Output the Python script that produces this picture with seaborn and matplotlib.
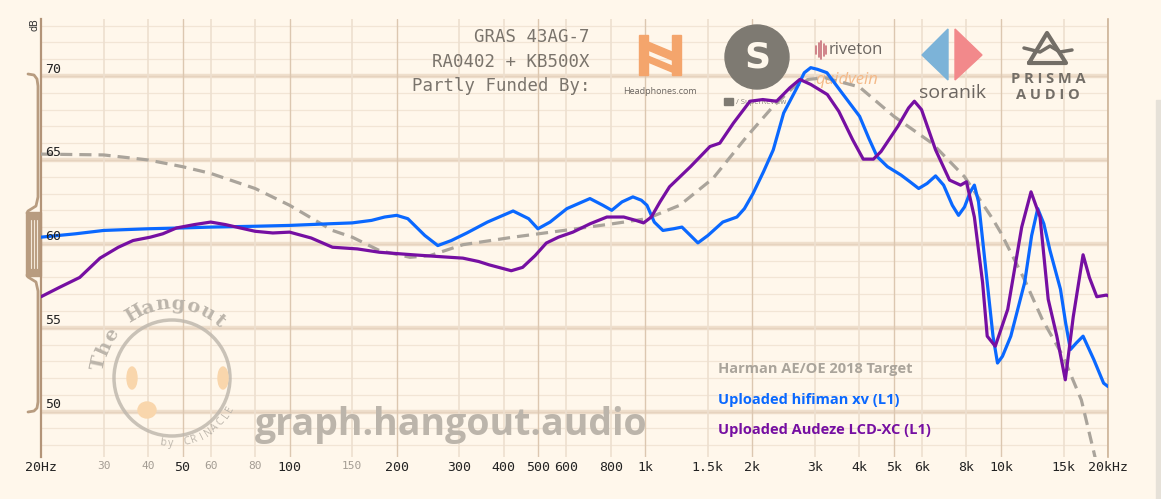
import numpy as np
import pandas as pd
import matplotlib
matplotlib.use("Agg")
import matplotlib.pyplot as plt
import matplotlib.transforms as mtransforms
from matplotlib.patches import Polygon, Circle, Rectangle, Ellipse
import seaborn as sns

# Frequency responses (Hz, dB)
hifiman_freq = [20, 25, 30, 40, 50, 60, 80, 100, 130, 150, 170, 185, 200, 215, 240, 261, 285, 315,
                360, 425, 470, 499, 540, 602, 699, 760, 805, 860, 923, 975, 1011, 1060, 1121, 1200,
                1268, 1340, 1406, 1500, 1652, 1810, 1900, 2009, 2150, 2290, 2450, 2669, 2800, 2919,
                3050, 3241, 3572, 4005, 4250, 4486, 4797, 5238, 5550, 5871, 6200, 6550, 6900, 7300,
                7600, 7900, 8200, 8420, 8650, 9150, 9500, 9780, 10100, 10660, 11660, 12200, 12690,
                13200, 13740, 14700, 15200, 15680, 16300, 17020, 18250, 19440, 20000]
hifiman_db = [60.4, 60.6, 60.8, 60.9, 60.95, 61.0, 61.05, 61.1, 61.2, 61.25, 61.4, 61.6, 61.7, 61.5,
              60.5, 59.9, 60.2, 60.65, 61.3, 61.96, 61.5, 60.9, 61.3, 62.1, 62.7, 62.3, 62.0, 62.5,
              62.8, 62.6, 62.3, 61.3, 60.8, 60.9, 61.0, 60.5, 60.06, 60.5, 61.3, 61.6, 62.1, 63.0,
              64.3, 65.6, 67.8, 69.3, 70.2, 70.5, 70.4, 70.2, 69.0, 67.6, 66.3, 65.2, 64.6, 64.1,
              63.7, 63.3, 63.6, 64.05, 63.5, 62.3, 61.7, 62.2, 63.1, 63.5, 62.5, 57.7, 54.5, 52.9,
              53.3, 54.5, 57.7, 60.5, 62.1, 61.2, 59.6, 57.3, 55.3, 53.7, 54.1, 54.5, 53.1, 51.7,
              51.5]

audeze_freq = [20, 22.5, 25.7, 29.3, 33, 36.3, 40.6, 44, 48.1, 54, 60, 66, 72.6, 80, 89.7, 100, 115,
               132, 155, 179, 222, 260, 307, 340, 364, 420, 452, 490, 527, 570, 626, 700, 780, 870,
               940, 989, 1040, 1100, 1170, 1340, 1520, 1620, 1770, 1970, 2140, 2340, 2550, 2720,
               2920, 3250, 3500, 3830, 4100, 4380, 4600, 5130, 5500, 5710, 5980, 6550, 7170, 7700,
               8000, 8420, 8880, 9150, 9640, 10450, 11440, 12150, 12880, 13580, 14360, 15170,
               15970, 17020, 17730, 18600, 19800, 20000]
audeze_db = [56.85, 57.4, 58.0, 59.15, 59.8, 60.2, 60.4, 60.6, 60.95, 61.15, 61.3, 61.15, 60.95,
             60.75, 60.65, 60.7, 60.35, 59.8, 59.7, 59.5, 59.35, 59.25, 59.15, 58.95, 58.75, 58.4,
             58.6, 59.3, 60.05, 60.4, 60.7, 61.2, 61.6, 61.6, 61.4, 61.25, 61.6, 62.5, 63.4, 64.6,
             65.8, 66.0, 67.2, 68.5, 68.6, 68.5, 69.3, 69.8, 69.5, 68.9, 67.9, 66.2, 65.05, 65.05,
             65.5, 67.0, 68.1, 68.5, 68.0, 65.6, 63.8, 63.5, 63.7, 61.6, 57.7, 54.5, 53.9, 56.1,
             61.0, 63.1, 61.6, 56.7, 54.5, 51.9, 55.65, 59.35, 58.0, 56.85, 56.95, 56.9]

target_freq = [20, 30, 40, 50, 60, 80, 100, 132, 150, 179, 218, 248, 307, 425, 590, 810, 1010, 1250,
               1550, 1930, 2290, 2600, 2870, 3200, 4000, 5000, 6400, 7900, 9470, 10000, 11660,
               13070, 14950, 16830, 18200, 20000]
target_db = [65.35, 65.3, 65.0, 64.6, 64.2, 63.3, 62.3, 60.8, 60.4, 59.6, 59.2, 59.3, 59.95, 60.4,
             60.8, 61.2, 61.5, 62.3, 63.9, 66.4, 68.2, 69.3, 69.8, 69.9, 69.35, 67.6, 66.0, 64.0,
             61.5, 60.65, 57.85, 55.5, 53.3, 50.7, 47.7, 44.0]

legend_labels = ["Harman AE/OE 2018 Target", "Uploaded hifiman xv (L1)", "Uploaded Audeze LCD-XC (L1)"]

x_major = [20, 50, 100, 200, 300, 400, 500, 600, 800, 1000, 1500, 2000, 3000, 4000, 5000, 6000,
           8000, 10000, 15000, 20000]
x_major_labels = ["20Hz", "50", "100", "200", "300", "400", "500", "600", "800", "1k", "1.5k", "2k",
                  "3k", "4k", "5k", "6k", "8k", "10k", "15k", "20kHz"]
x_minor = [30, 40, 60, 80, 150]
x_minor_labels = ["30", "40", "60", "80", "150"]
dark_vlines = [50, 100, 200, 500, 1000, 2000, 5000, 10000]
y_labels = [50, 55, 60, 65, 70]

bg = "#fff7eb"
blue = "#0a68ff"
purple = "#760fa2"
grey = "#aaa49b"

sns.set_style("white")
plt.rcParams["font.family"] = ["DejaVu Sans Mono"]

W, H = 1161, 499
fig = plt.figure(figsize=(W / 100, H / 100), dpi=100, facecolor=bg)
ax = fig.add_axes([41 / W, (H - 457) / H, (1108 - 41) / W, (457 - 19) / H])
ax.set_facecolor(bg)
# pixel coords (top-left origin) for decorations
px = mtransforms.Affine2D().scale(1 / W, -1 / H).translate(0, 1) + fig.transFigure

df_t = pd.DataFrame({"f": target_freq, "db": target_db})
df_h = pd.DataFrame({"f": hifiman_freq, "db": hifiman_db})
df_a = pd.DataFrame({"f": audeze_freq, "db": audeze_db})

sns.lineplot(data=df_t, x="f", y="db", ax=ax, color=grey, lw=2.3, linestyle=(0, (3.8, 2.2)),
             zorder=3)
sns.lineplot(data=df_h, x="f", y="db", ax=ax, color=blue, lw=2.3, zorder=4,
             solid_joinstyle="round", solid_capstyle="round")
sns.lineplot(data=df_a, x="f", y="db", ax=ax, color=purple, lw=2.3, zorder=5,
             solid_joinstyle="round", solid_capstyle="round")

ax.set_xscale("log")
ax.set_xlim(20, 20000)
ax.set_ylim(47.3, 73.4)
ax.set_xlabel("")
ax.set_ylabel("")

# grid
for d in np.arange(48, 74, 1):
    if d % 5 == 0:
        ax.axhline(d, color="#efdfcc", lw=3.2, zorder=0.6)
        ax.axhline(d, color="#e6d3bf", lw=1.0, zorder=0.7)
    else:
        ax.axhline(d, color="#f2e5d5", lw=0.9, zorder=0.5)
for f in x_major + x_minor:
    if f in dark_vlines:
        ax.axvline(f, color="#dcc7b0", lw=1.0, zorder=0.8)
    else:
        ax.axvline(f, color="#eddfcf", lw=1.2, zorder=0.8)

for s in ["top", "bottom"]:
    ax.spines[s].set_visible(False)
ax.spines["left"].set_color("#b39478")
ax.spines["left"].set_linewidth(1.6)
ax.spines["right"].set_color("#cdb397")
ax.spines["right"].set_linewidth(1.2)

ax.set_xticks(x_major + x_minor)
ax.set_xticklabels(x_major_labels + x_minor_labels)
ax.xaxis.set_minor_locator(matplotlib.ticker.NullLocator())
ax.tick_params(axis="x", length=0, pad=3)
for lab in ax.get_xticklabels():
    if lab.get_text() in x_minor_labels:
        lab.set_color("#a39c93")
        lab.set_fontsize(8)
    else:
        lab.set_color("#222222")
        lab.set_fontsize(9.5)
ax.set_yticks([])

ytrans = mtransforms.blended_transform_factory(ax.transAxes, ax.transData)
for v in y_labels:
    ax.text(0.004, v + 0.42, str(v), transform=ytrans, fontsize=9.5, color="#222222",
            va="center", ha="left", zorder=6)
ax.text(34, 25, "dB", transform=px, rotation=90, fontsize=7, color="#333333",
        ha="center", va="center", clip_on=False, family="DejaVu Sans")

# left brace decoration
brown = "#b89c80"
ax.plot([28, 34, 37, 38, 38, 36, 28, 27], [74, 75, 79, 86, 197, 206, 211, 213], color=brown,
        lw=2, transform=px, clip_on=False)
ax.plot([27, 28, 36, 38, 38, 37, 34, 28], [275, 277, 282, 291, 402, 408, 411, 412], color=brown,
        lw=2, transform=px, clip_on=False)
ax.add_patch(Rectangle((26, 212), 15, 64, transform=px, color=brown, clip_on=False))
for xx in [31, 34, 37]:
    ax.plot([xx, xx], [220, 268], color="#f3e8da", lw=0.8, transform=px, clip_on=False)

# header
for txt, yy in zip(["GRAS 43AG-7", "RA0402 + KB500X", "Partly Funded By:"], [37, 62, 86]):
    ax.text(590, yy, txt, transform=px, fontsize=12.5, color="#7a746c", ha="right",
            va="center", zorder=2)

# sponsor logos (approximate)
orange = "#f4a56c"
ax.add_patch(Rectangle((639, 35), 9, 40, transform=px, color=orange, zorder=2))
ax.add_patch(Rectangle((672, 35), 9, 40, transform=px, color=orange, zorder=2))
ax.add_patch(Polygon([[648, 42], [672, 52], [672, 60], [648, 50]], transform=px, color=orange, zorder=2))
ax.add_patch(Polygon([[648, 56], [672, 66], [672, 72], [648, 62]], transform=px, color=orange, zorder=2))
ax.text(660, 92, "Headphones.com", transform=px, fontsize=6.5, color="#6b6560", ha="center",
        va="center", family="Open Sans", zorder=2)

ax.add_patch(Circle((757, 57), 32, transform=px, color="#7e7a72", zorder=2))
ax.text(757, 57, "S", transform=px, fontsize=26, color="#fff8ec", ha="center", va="center",
        family="DejaVu Sans", fontweight="bold", zorder=2)
ax.add_patch(Rectangle((724, 98), 9, 7, transform=px, color="#7e7a72", zorder=2))
ax.text(736, 102, "/ SuperReview", transform=px, fontsize=5.5, color="#8a847c", ha="left",
        va="center", family="Open Sans", zorder=2)

for i, hh in enumerate([8, 14, 18, 12, 8]):
    xx = 816 + i * 2.5
    ax.plot([xx, xx], [50 - hh / 2, 50 + hh / 2], color="#c8707a", lw=1.2, transform=px, zorder=2)
ax.text(829, 50, "riveton", transform=px, fontsize=12, color="#6b6560", ha="left", va="center",
        family="Open Sans", zorder=2)
ax.text(815, 80, "quidvein", transform=px, fontsize=12, color="#f4b988", ha="left", va="center",
        family="Open Sans", style="italic", zorder=2)

ax.add_patch(Polygon([[922, 55], [948, 29], [948, 80]], transform=px, color="#7cb3d8", zorder=2))
ax.add_patch(Polygon([[955, 29], [982, 55], [955, 80]], transform=px, color="#f2898b", zorder=2))
ax.text(952, 93, "soranik", transform=px, fontsize=14, color="#6b6560", ha="center", va="center",
        family="Open Sans", zorder=2)

ax.plot([1029, 1047, 1066, 1029], [63, 33, 63, 63], color="#736e67", lw=3, transform=px, zorder=2)
ax.plot([1024, 1040, 1050, 1060, 1072], [48, 52, 46, 52, 50], color="#736e67", lw=2.5,
        transform=px, zorder=2)
ax.text(1048, 79, "P R I S M A", transform=px, fontsize=10.5, color="#736e67", ha="center",
        va="center", family="Open Sans", fontweight="bold", zorder=2)
ax.text(1048, 95, "A U D I O", transform=px, fontsize=10.5, color="#736e67", ha="center",
        va="center", family="Open Sans", fontweight="bold", zorder=2)

# hangout watermark
wm = "#bcb5ab"
ax.add_patch(Circle((172, 378), 58, transform=px, fill=False, ec=wm, lw=2.5, alpha=0.8, zorder=1.5))
ax.add_patch(Ellipse((132, 378), 10, 22, transform=px, color="#f9d6ac", zorder=1.5))
ax.add_patch(Ellipse((223, 378), 10, 22, transform=px, color="#f9d6ac", zorder=1.5))
ax.add_patch(Ellipse((147, 410), 18, 16, transform=px, color="#f9d6ac", zorder=1.5))
title = "The Hangout"
for i, ch in enumerate(title):
    a = np.deg2rad(168 - i * (118 / (len(title) - 1)))
    ax.text(172 + 74 * np.cos(a), 378 - 74 * np.sin(a), ch, transform=px, fontsize=14,
            color=wm, ha="center", va="center", rotation=np.rad2deg(a) - 90,
            family="DejaVu Serif", fontweight="bold", zorder=1.5)
sub = "by CRINACLE"
for i, ch in enumerate(sub):
    a = np.deg2rad(262 + i * (70 / (len(sub) - 1)))
    ax.text(172 + 66 * np.cos(a), 378 - 66 * np.sin(a), ch, transform=px, fontsize=7.5,
            color=wm, ha="center", va="center", rotation=np.rad2deg(a) + 90,
            family="Open Sans", zorder=1.5)
ax.text(255, 425, "graph.hangout.audio", transform=px, fontsize=27, color=wm, ha="left",
        va="center", family="Open Sans", fontweight="bold", zorder=1.5)

# legend
for txt, c, yy in zip(legend_labels, [grey, blue, purple], [369, 400, 430]):
    ax.text(718, yy, txt, transform=px, fontsize=10.5, color=c, ha="left", va="center",
            family="Open Sans", fontweight="bold", zorder=6)

# scrollbar strip
ax.add_patch(Rectangle((1156, 100), 5, 399, transform=px, color="#e6e1d8", clip_on=False))

fig.savefig("out.png", dpi=100, facecolor=bg)
